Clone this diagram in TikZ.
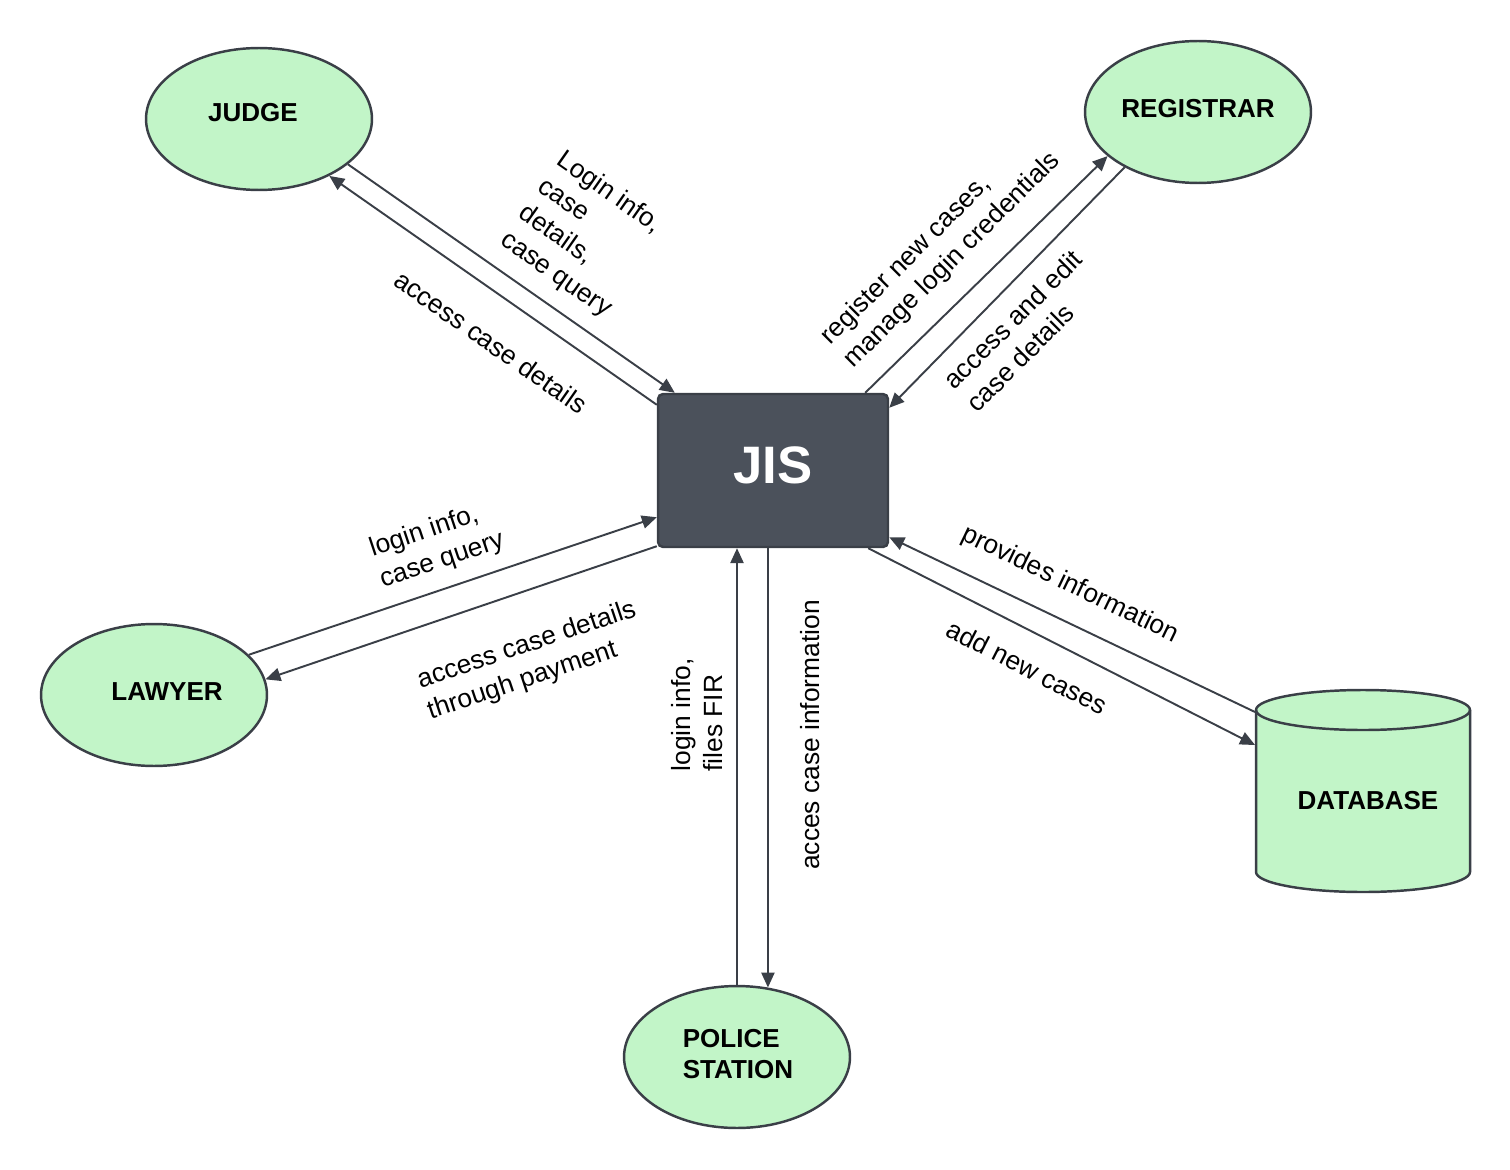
\documentclass[tikz,border=0pt]{standalone}
\usepackage{fontspec}
\setmainfont{Liberation Sans}
\usetikzlibrary{shapes.geometric,arrows.meta,calc}
\definecolor{ngreen}{RGB}{194,245,200}
\definecolor{edgec}{RGB}{58,63,71}
\definecolor{jisfill}{RGB}{75,81,91}
\begin{document}
\begin{tikzpicture}[x=0.02cm,y=-0.02cm,
  ent/.style={ellipse, draw=edgec, line width=1.4pt, fill=ngreen, minimum width=4.52cm, minimum height=2.84cm, inner sep=0pt},
  ntext/.style={font=\fontsize{14.8}{18}\selectfont\bfseries, text=black, align=left, inner sep=0pt},
  flow/.style={draw=edgec, line width=1.1pt, -{Triangle[length=8.5pt,width=7.5pt]}},
  lbl/.style={font=\fontsize{15}{18.5}\selectfont, align=left, inner sep=0pt, text=black},
]
\useasboundingbox (0,0) rectangle (1510,1169);

% entities
\node[ent, label={[ntext, shift={(-6,-6)}]center:JUDGE}] (judge) at (259,119) {};
\node[ent, label={[ntext, shift={(0,-3)}]center:REGISTRAR}] (registrar) at (1198,112) {};
\node[ent, label={[ntext, shift={(13,-3)}]center:LAWYER}] (lawyer) at (154,695) {};
\node[ent, label={[ntext, shift={(1,-3)}]center:POLICE\\STATION}] (police) at (737,1057) {};

% JIS process
\node[draw=edgec, line width=1.4pt, fill=jisfill, rounded corners=0.1cm,
      minimum width=4.6cm, minimum height=3.06cm, inner sep=0pt,
      label={[font=\fontsize{30}{32}\selectfont\bfseries, text=white, shift={(0,-5)}]center:JIS}] (jis) at (773,470.5) {};

% database cylinder
\path[draw=edgec, line width=1.4pt, fill=ngreen]
  (1256,710) -- (1256,872) arc[start angle=180,end angle=0,x radius=107,y radius=20]
  -- (1470,710) arc[start angle=0,end angle=-180,x radius=107,y radius=20] -- cycle;
\draw[edgec, line width=1.4pt] (1256,710) arc[start angle=180,end angle=0,x radius=107,y radius=20];
\node[inner sep=0pt, outer sep=0pt, minimum width=4.28cm, minimum height=4.04cm,
      label={[ntext, shift={(5,10)}]center:DATABASE}] (db) at (1363,791) {};

% connectors
\draw[flow] (judge.-27) -- ($(jis.north west)+(18,0)$);
\draw[flow] ($(jis.north west)+(0,12)$) -- (judge.-39);
\draw[flow] ($(jis.north east)+(-24,0)$) -- (registrar.-154.4);
\draw[flow] (registrar.217.2) -- ($(jis.north east)+(0,15)$);
\draw[flow] (lawyer.23.6) -- ($(jis.south west)+(0,-31)$);
\draw[flow] ($(jis.south west)+(0,-2)$) -- (lawyer.8.6);
\draw[flow] (police.north) -- (police.north |- jis.south);
\draw[flow] (jis.south -| police.66.6) -- (police.66.6);
\draw[flow] ($(db.north west)+(-1,22)$) -- ($(jis.south east)+(0,-11)$);
\draw[flow] ($(jis.south east)+(-21,0)$) -- ($(db.north west)+(-1,55)$);

% labels
\node[lbl, rotate=-35] (t1) at (584,235) {Login info,\\case\\details,\\case query};
\node[lbl, rotate=-35] (t2) at (491,342) {access case details};
\node[lbl, rotate=45] (t3) at (941,249) {register new cases,\\manage login credentials};
\node[lbl, rotate=45] (t4) at (1024,331) {access and edit\\case details};
\node[lbl, rotate=18.5] (t5) at (437,545) {login info,\\case query};
\node[lbl, rotate=18.5] (t6) at (532,661) {access case details\\through payment};
\node[lbl, rotate=90] (t7) at (697,715) {login info,\\files FIR};
\node[lbl, rotate=90] (t8) at (810,735) {acces case information};
\node[lbl, rotate=-25.7] (t9) at (1070,585) {provides information};
\node[lbl, rotate=-27] (t10) at (1027,667) {add new cases};
\end{tikzpicture}
\end{document}
